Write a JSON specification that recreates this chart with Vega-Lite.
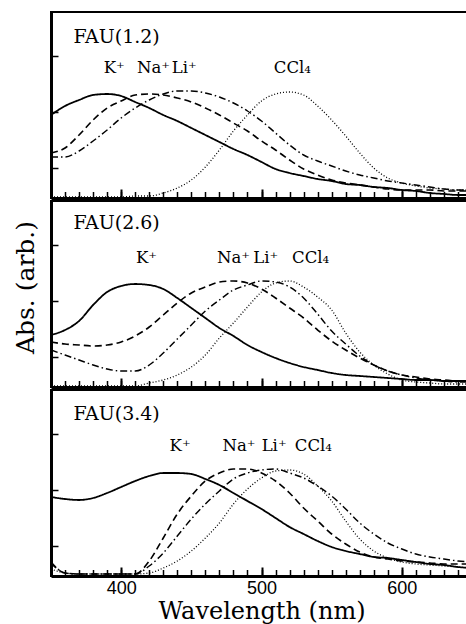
{
"$schema":"https://vega.github.io/schema/vega-lite/v6.json",
"padding":{"left":12,"top":11,"right":0,"bottom":0},
"spacing":0,
"config":{"view":{"stroke":"black","strokeWidth":2},"concat":{"spacing":0},"text":{"font":"DejaVu Serif","color":"black"}},
"datasets":{
"curves":[
{"panel":1,"wl":350,"K":83,"Na":45,"Li":41,"CCl4":1},
{"panel":1,"wl":360,"K":92,"Na":50,"Li":41,"CCl4":1},
{"panel":1,"wl":370,"K":98,"Na":63,"Li":47,"CCl4":1},
{"panel":1,"wl":380,"K":103,"Na":78,"Li":57,"CCl4":1},
{"panel":1,"wl":390,"K":104,"Na":90,"Li":68,"CCl4":1},
{"panel":1,"wl":400,"K":102,"Na":97,"Li":80,"CCl4":1},
{"panel":1,"wl":410,"K":96,"Na":103,"Li":90,"CCl4":2},
{"panel":1,"wl":420,"K":90,"Na":104,"Li":98,"CCl4":2},
{"panel":1,"wl":430,"K":83,"Na":103,"Li":104,"CCl4":5},
{"panel":1,"wl":440,"K":77,"Na":100,"Li":107,"CCl4":10},
{"panel":1,"wl":450,"K":70,"Na":96,"Li":107,"CCl4":18},
{"panel":1,"wl":460,"K":63,"Na":90,"Li":105,"CCl4":31},
{"panel":1,"wl":470,"K":56,"Na":83,"Li":101,"CCl4":48},
{"panel":1,"wl":480,"K":49,"Na":75,"Li":95,"CCl4":67},
{"panel":1,"wl":490,"K":43,"Na":67,"Li":87,"CCl4":83},
{"panel":1,"wl":500,"K":36,"Na":57,"Li":77,"CCl4":97},
{"panel":1,"wl":510,"K":29,"Na":48,"Li":65,"CCl4":104},
{"panel":1,"wl":520,"K":25,"Na":38,"Li":53,"CCl4":106},
{"panel":1,"wl":530,"K":22,"Na":29,"Li":43,"CCl4":103},
{"panel":1,"wl":540,"K":19,"Na":23,"Li":37,"CCl4":92},
{"panel":1,"wl":550,"K":17,"Na":18,"Li":32,"CCl4":78},
{"panel":1,"wl":560,"K":14,"Na":15,"Li":27,"CCl4":62},
{"panel":1,"wl":570,"K":13,"Na":13,"Li":23,"CCl4":45},
{"panel":1,"wl":580,"K":11,"Na":11,"Li":20,"CCl4":30},
{"panel":1,"wl":590,"K":10,"Na":9,"Li":17,"CCl4":20},
{"panel":1,"wl":600,"K":8,"Na":8,"Li":15,"CCl4":15},
{"panel":1,"wl":610,"K":7,"Na":8,"Li":13,"CCl4":12},
{"panel":1,"wl":620,"K":5,"Na":8,"Li":11,"CCl4":10},
{"panel":1,"wl":630,"K":4,"Na":7,"Li":9,"CCl4":9},
{"panel":1,"wl":640,"K":3,"Na":7,"Li":8,"CCl4":8},
{"panel":1,"wl":650,"K":3,"Na":7,"Li":8,"CCl4":8},
{"panel":2,"wl":350,"K":52,"Na":45,"Li":37,"CCl4":1},
{"panel":2,"wl":360,"K":57,"Na":43,"Li":32,"CCl4":1},
{"panel":2,"wl":370,"K":66,"Na":42,"Li":27,"CCl4":1},
{"panel":2,"wl":380,"K":82,"Na":41,"Li":22,"CCl4":1},
{"panel":2,"wl":390,"K":95,"Na":42,"Li":18,"CCl4":1},
{"panel":2,"wl":400,"K":101,"Na":45,"Li":16,"CCl4":1},
{"panel":2,"wl":410,"K":103,"Na":51,"Li":16,"CCl4":1},
{"panel":2,"wl":420,"K":102,"Na":60,"Li":22,"CCl4":4},
{"panel":2,"wl":430,"K":98,"Na":72,"Li":34,"CCl4":7},
{"panel":2,"wl":440,"K":89,"Na":84,"Li":48,"CCl4":12},
{"panel":2,"wl":450,"K":79,"Na":94,"Li":62,"CCl4":20},
{"panel":2,"wl":460,"K":69,"Na":100,"Li":76,"CCl4":32},
{"panel":2,"wl":470,"K":59,"Na":105,"Li":87,"CCl4":49},
{"panel":2,"wl":480,"K":51,"Na":106,"Li":97,"CCl4":64},
{"panel":2,"wl":490,"K":42,"Na":104,"Li":102,"CCl4":80},
{"panel":2,"wl":500,"K":35,"Na":98,"Li":106,"CCl4":95},
{"panel":2,"wl":510,"K":29,"Na":89,"Li":105,"CCl4":104},
{"panel":2,"wl":520,"K":24,"Na":79,"Li":100,"CCl4":106},
{"panel":2,"wl":530,"K":20,"Na":69,"Li":89,"CCl4":100},
{"panel":2,"wl":540,"K":17,"Na":57,"Li":73,"CCl4":90},
{"panel":2,"wl":550,"K":14,"Na":46,"Li":56,"CCl4":77},
{"panel":2,"wl":560,"K":12,"Na":37,"Li":43,"CCl4":54},
{"panel":2,"wl":570,"K":11,"Na":29,"Li":31,"CCl4":35},
{"panel":2,"wl":580,"K":10,"Na":22,"Li":22,"CCl4":22},
{"panel":2,"wl":590,"K":9,"Na":16,"Li":16,"CCl4":13},
{"panel":2,"wl":600,"K":8,"Na":12,"Li":12,"CCl4":7},
{"panel":2,"wl":610,"K":7,"Na":10,"Li":9,"CCl4":5},
{"panel":2,"wl":620,"K":7,"Na":8,"Li":7,"CCl4":4},
{"panel":2,"wl":630,"K":6,"Na":7,"Li":6,"CCl4":3},
{"panel":2,"wl":640,"K":6,"Na":6,"Li":5,"CCl4":3},
{"panel":2,"wl":650,"K":6,"Na":6,"Li":5,"CCl4":3},
{"panel":3,"wl":350,"K":79,"Na":13,"Li":14,"CCl4":7},
{"panel":3,"wl":360,"K":77,"Na":3,"Li":3,"CCl4":3},
{"panel":3,"wl":370,"K":76,"Na":2,"Li":2,"CCl4":2},
{"panel":3,"wl":380,"K":78,"Na":2,"Li":2,"CCl4":2},
{"panel":3,"wl":390,"K":83,"Na":2,"Li":2,"CCl4":2},
{"panel":3,"wl":400,"K":89,"Na":2,"Li":2,"CCl4":2},
{"panel":3,"wl":410,"K":95,"Na":2,"Li":2,"CCl4":2},
{"panel":3,"wl":420,"K":100,"Na":15,"Li":10,"CCl4":3},
{"panel":3,"wl":430,"K":103,"Na":38,"Li":23,"CCl4":8},
{"panel":3,"wl":440,"K":103,"Na":62,"Li":40,"CCl4":15},
{"panel":3,"wl":450,"K":102,"Na":80,"Li":57,"CCl4":25},
{"panel":3,"wl":460,"K":97,"Na":95,"Li":72,"CCl4":38},
{"panel":3,"wl":470,"K":91,"Na":103,"Li":85,"CCl4":53},
{"panel":3,"wl":480,"K":83,"Na":107,"Li":97,"CCl4":72},
{"panel":3,"wl":490,"K":75,"Na":107,"Li":103,"CCl4":87},
{"panel":3,"wl":500,"K":67,"Na":103,"Li":106,"CCl4":98},
{"panel":3,"wl":510,"K":58,"Na":95,"Li":107,"CCl4":105},
{"panel":3,"wl":520,"K":49,"Na":83,"Li":103,"CCl4":106},
{"panel":3,"wl":530,"K":42,"Na":68,"Li":98,"CCl4":102},
{"panel":3,"wl":540,"K":35,"Na":55,"Li":90,"CCl4":90},
{"panel":3,"wl":550,"K":29,"Na":42,"Li":80,"CCl4":75},
{"panel":3,"wl":560,"K":25,"Na":32,"Li":67,"CCl4":55},
{"panel":3,"wl":570,"K":22,"Na":24,"Li":53,"CCl4":37},
{"panel":3,"wl":580,"K":19,"Na":19,"Li":42,"CCl4":25},
{"panel":3,"wl":590,"K":18,"Na":17,"Li":33,"CCl4":18},
{"panel":3,"wl":600,"K":16,"Na":15,"Li":27,"CCl4":14},
{"panel":3,"wl":610,"K":14,"Na":14,"Li":22,"CCl4":12},
{"panel":3,"wl":620,"K":12,"Na":13,"Li":19,"CCl4":11},
{"panel":3,"wl":630,"K":11,"Na":12,"Li":17,"CCl4":10},
{"panel":3,"wl":640,"K":9,"Na":12,"Li":15,"CCl4":9},
{"panel":3,"wl":650,"K":8,"Na":12,"Li":14,"CCl4":8}
],
"labels":[
{"panel":1,"kind":"title","wl":366,"abs":161,"text":"FAU(1.2)"},
{"panel":1,"kind":"ion","wl":395,"abs":130,"text":"K⁺"},
{"panel":1,"kind":"ion","wl":423,"abs":130,"text":"Na⁺"},
{"panel":1,"kind":"ion","wl":445,"abs":130,"text":"Li⁺"},
{"panel":1,"kind":"ion","wl":522,"abs":130,"text":"CCl₄"},
{"panel":2,"kind":"title","wl":366,"abs":164,"text":"FAU(2.6)"},
{"panel":2,"kind":"ion","wl":418,"abs":129,"text":"K⁺"},
{"panel":2,"kind":"ion","wl":480,"abs":129,"text":"Na⁺"},
{"panel":2,"kind":"ion","wl":503,"abs":129,"text":"Li⁺"},
{"panel":2,"kind":"ion","wl":535,"abs":129,"text":"CCl₄"},
{"panel":3,"kind":"title","wl":366,"abs":162,"text":"FAU(3.4)"},
{"panel":3,"kind":"ion","wl":442,"abs":130,"text":"K⁺"},
{"panel":3,"kind":"ion","wl":484,"abs":130,"text":"Na⁺"},
{"panel":3,"kind":"ion","wl":509,"abs":130,"text":"Li⁺"},
{"panel":3,"kind":"ion","wl":537,"abs":130,"text":"CCl₄"}
]
},
"vconcat":[
{"width":421,"height":186,
 "resolve":{"axis":{"x":"independent"}},
 "layer":[
  {"data":{"name":"curves"},"transform":[{"filter":"datum.panel === 1"},{"fold":["K","Na","Li","CCl4"],"as":["series","abs"]}],
   "mark":{"type":"line","color":"black","clip":true,"strokeCap":"butt","interpolate":"monotone"},
   "encoding":{
    "x":{"field":"wl","type":"quantitative","scale":{"domain":[350,650],"nice":false,"zero":false},
      "axis":{"orient":"bottom","zindex":1,"title":null,"values":[350,360,370,380,390,400,410,420,430,440,450,460,470,480,490,500,510,520,530,540,550,560,570,580,590,600,610,620,630,640,650],"labels":false,"grid":false,"domainColor":"black","domainWidth":3,"tickColor":"black","tickWidth":1.5,"tickSize":-6.5}},
    "y":{"field":"abs","type":"quantitative","scale":{"domain":[0,186],"nice":false},
      "axis":{"zindex":1,"title":null,"values":[30,58,86,114,142,170],"labels":false,"grid":false,"domainColor":"black","domainWidth":3,"tickColor":"black","tickWidth":1.5,"tickSize":-7}},
    "strokeDash":{"field":"series","type":"nominal","scale":{"domain":["K","Na","Li","CCl4"],"range":[[1,0],[7,4],[7,3,1.5,3],[1,2]]},"legend":null},
    "strokeWidth":{"field":"series","type":"nominal","scale":{"domain":["K","Na","Li","CCl4"],"range":[1.8,1.3,1.3,1]},"legend":null}
   }},
  {"data":{"name":"labels"},"transform":[{"filter":"datum.panel === 1 && datum.kind === 'title'"}],
   "mark":{"type":"text","align":"left","baseline":"middle","fontSize":19},
   "encoding":{"x":{"field":"wl","type":"quantitative","axis":null},"y":{"field":"abs","type":"quantitative"},"text":{"field":"text"}}},
  {"data":{"name":"labels"},"transform":[{"filter":"datum.panel === 1 && datum.kind === 'ion'"}],
   "mark":{"type":"text","align":"center","baseline":"middle","fontSize":16.5},
   "encoding":{"x":{"field":"wl","type":"quantitative","axis":{"orient":"bottom","zindex":1,"title":null,"values":[400,500,600],"labels":false,"domain":false,"grid":false,"tickColor":"black","tickWidth":2,"tickSize":-9}},"y":{"field":"abs","type":"quantitative"},"text":{"field":"text"}}}
 ]},
{"width":421,"height":186,
 "resolve":{"axis":{"x":"independent"}},
 "layer":[
  {"data":{"name":"curves"},"transform":[{"filter":"datum.panel === 2"},{"fold":["K","Na","Li","CCl4"],"as":["series","abs"]}],
   "mark":{"type":"line","color":"black","clip":true,"strokeCap":"butt","interpolate":"monotone"},
   "encoding":{
    "x":{"field":"wl","type":"quantitative","scale":{"domain":[350,650],"nice":false,"zero":false},
      "axis":{"orient":"bottom","zindex":1,"title":null,"values":[350,360,370,380,390,400,410,420,430,440,450,460,470,480,490,500,510,520,530,540,550,560,570,580,590,600,610,620,630,640,650],"labels":false,"grid":false,"domainColor":"black","domainWidth":3,"tickColor":"black","tickWidth":1.5,"tickSize":-6.5}},
    "y":{"field":"abs","type":"quantitative","scale":{"domain":[0,186],"nice":false},
      "axis":{"zindex":1,"title":"Abs. (arb.)","titleFont":"DejaVu Serif","titleFontSize":25,"titleFontWeight":"normal","titleColor":"black","titlePadding":12,"titleY":86,"values":[30,58,86,114,142,170],"labels":false,"grid":false,"domainColor":"black","domainWidth":3,"tickColor":"black","tickWidth":1.5,"tickSize":-7}},
    "strokeDash":{"field":"series","type":"nominal","scale":{"domain":["K","Na","Li","CCl4"],"range":[[1,0],[7,4],[7,3,1.5,3],[1,2]]},"legend":null},
    "strokeWidth":{"field":"series","type":"nominal","scale":{"domain":["K","Na","Li","CCl4"],"range":[1.8,1.3,1.3,1]},"legend":null}
   }},
  {"data":{"name":"labels"},"transform":[{"filter":"datum.panel === 2 && datum.kind === 'title'"}],
   "mark":{"type":"text","align":"left","baseline":"middle","fontSize":19},
   "encoding":{"x":{"field":"wl","type":"quantitative","axis":null},"y":{"field":"abs","type":"quantitative"},"text":{"field":"text"}}},
  {"data":{"name":"labels"},"transform":[{"filter":"datum.panel === 2 && datum.kind === 'ion'"}],
   "mark":{"type":"text","align":"center","baseline":"middle","fontSize":16.5},
   "encoding":{"x":{"field":"wl","type":"quantitative","axis":{"orient":"bottom","zindex":1,"title":null,"values":[400,500,600],"labels":false,"domain":false,"grid":false,"tickColor":"black","tickWidth":2,"tickSize":-9}},"y":{"field":"abs","type":"quantitative"},"text":{"field":"text"}}}
 ]},
{"width":421,"height":186,
 "resolve":{"axis":{"x":"independent"}},
 "layer":[
  {"data":{"name":"curves"},"transform":[{"filter":"datum.panel === 3"},{"fold":["K","Na","Li","CCl4"],"as":["series","abs"]}],
   "mark":{"type":"line","color":"black","clip":true,"strokeCap":"butt","interpolate":"monotone"},
   "encoding":{
    "x":{"field":"wl","type":"quantitative","scale":{"domain":[350,650],"nice":false,"zero":false},
      "axis":{"orient":"bottom","zindex":1,"title":null,"values":[350,360,370,380,390,400,410,420,430,440,450,460,470,480,490,500,510,520,530,540,550,560,570,580,590,600,610,620,630,640,650],"labels":false,"grid":false,"domainColor":"black","domainWidth":3,"tickColor":"black","tickWidth":1.5,"tickSize":-6.5}},
    "y":{"field":"abs","type":"quantitative","scale":{"domain":[0,186],"nice":false},
      "axis":{"zindex":1,"title":null,"values":[30,58,86,114,142,170],"labels":false,"grid":false,"domainColor":"black","domainWidth":3,"tickColor":"black","tickWidth":1.5,"tickSize":-7}},
    "strokeDash":{"field":"series","type":"nominal","scale":{"domain":["K","Na","Li","CCl4"],"range":[[1,0],[7,4],[7,3,1.5,3],[1,2]]},"legend":null},
    "strokeWidth":{"field":"series","type":"nominal","scale":{"domain":["K","Na","Li","CCl4"],"range":[1.8,1.3,1.3,1]},"legend":null}
   }},
  {"data":{"name":"labels"},"transform":[{"filter":"datum.panel === 3 && datum.kind === 'title'"}],
   "mark":{"type":"text","align":"left","baseline":"middle","fontSize":19},
   "encoding":{"x":{"field":"wl","type":"quantitative","axis":null},"y":{"field":"abs","type":"quantitative"},"text":{"field":"text"}}},
  {"data":{"name":"labels"},"transform":[{"filter":"datum.panel === 3 && datum.kind === 'ion'"}],
   "mark":{"type":"text","align":"center","baseline":"middle","fontSize":16.5},
   "encoding":{"x":{"field":"wl","type":"quantitative","axis":{"orient":"bottom","zindex":1,"title":"Wavelength (nm)","titleFont":"DejaVu Serif","titleFontSize":24,"titleFontWeight":"normal","titleColor":"black","titleBaseline":"alphabetic","titleY":42,"values":[400,500,600],"labels":true,"labelFont":"Liberation Sans","labelFontSize":18,"labelColor":"black","labelPadding":12,"labelOverlap":false,"labelFlush":false,"domain":false,"grid":false,"tickColor":"black","tickWidth":2,"tickSize":-9}},"y":{"field":"abs","type":"quantitative"},"text":{"field":"text"}}}
 ]}
]
}
